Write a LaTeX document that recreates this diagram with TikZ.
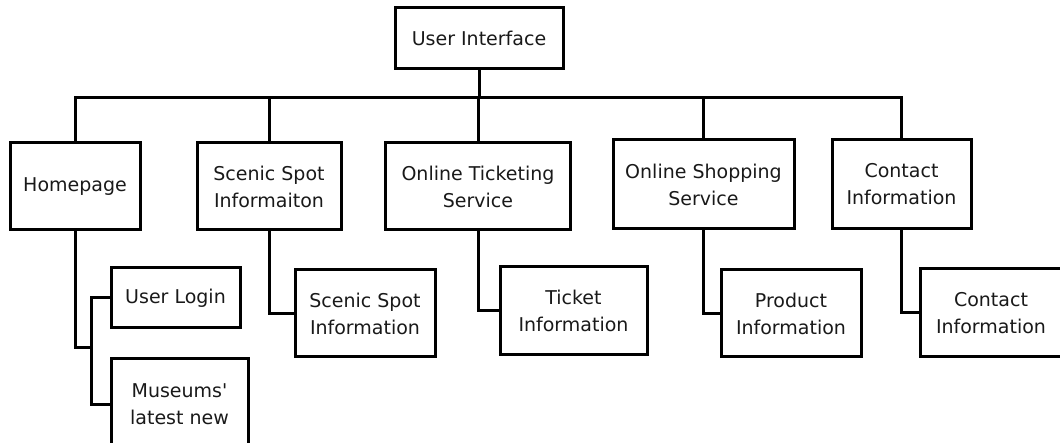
\documentclass[tikz,border=0pt]{standalone}
\usepackage{fontspec}
\setmainfont{DejaVu Sans}
\usetikzlibrary{calc}
\tikzset{
	boxnode/.style={draw, line width=3pt, align=center, inner sep=0pt, text=black!90, font=\fontsize{19}{27}\selectfont},
	link/.style={line width=3pt}
}

\begin{document}
\begin{tikzpicture}[x=1pt, y=-1pt]
			%%%%% START %%%%%
			\useasboundingbox (0, 0) rectangle (1060, 443);
			\clip (0, 0) rectangle (1060, 443);
			
			\node[boxnode, minimum width=168, minimum height=61] (ui) at (479, 38.5) {User Interface};
			
			\node[boxnode, minimum width=130, minimum height=87] (home) at (75, 186.5) {Homepage};
			\node[boxnode, minimum width=144, minimum height=87] (scenic) at (269, 186.5) {Scenic Spot\\Informaiton};
			\node[boxnode, minimum width=185, minimum height=87] (ticket) at (478, 186.5) {Online Ticketing\\Service};
			\node[boxnode, minimum width=181, minimum height=89] (shop) at (703.5, 184.5) {Online Shopping\\Service};
			\node[boxnode, minimum width=139, minimum height=89] (contact) at (901.5, 184.5) {Contact\\Information};
			
			\node[boxnode, minimum width=129, minimum height=60] (login) at (175.5, 298) {User Login};
			\node[boxnode, minimum width=137, minimum height=90] (museum) at (179.5, 404) {Museums\textquotesingle\\latest new};
			\node[boxnode, minimum width=140, minimum height=87] (sinfo) at (365, 313.5) {Scenic Spot\\Information};
			\node[boxnode, minimum width=147, minimum height=88] (tinfo) at (573.5, 311) {Ticket\\Information};
			\node[boxnode, minimum width=140, minimum height=87] (pinfo) at (791, 313.5) {Product\\Information};
			\node[boxnode, minimum width=142, minimum height=88] (cinfo) at (991, 313) {Contact\\Information};
			
			\coordinate (bus) at (0, 98);
			\coordinate (hj) at (93, 348);
			
			\draw[link] (ui.south) -- (ui.south |- bus);
			\draw[link] (home.north) -- (home.north |- bus) -- (contact.north |- bus) -- (contact.north);
			\draw[link] (scenic.north) -- (scenic.north |- bus);
			\draw[link] (ticket.north) -- (ticket.north |- bus);
			\draw[link] (shop.north) -- (shop.north |- bus);
			
			\draw[link] (home.south) |- (hj);
			\draw[link] (login.west) -- ++(-18, 0) |- (museum.west);
			\draw[link] (scenic.south) |- (sinfo.west);
			\draw[link] (ticket.south) |- (tinfo.west);
			\draw[link] (shop.south) |- (pinfo.west);
			\draw[link] (contact.south) |- (cinfo.west);
			
			%%%%% END %%%%%
		\end{tikzpicture}
\end{document}
